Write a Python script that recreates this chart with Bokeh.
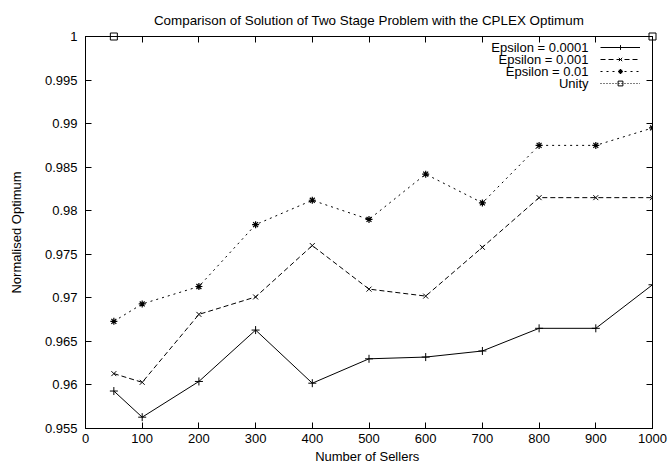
from bokeh.plotting import figure
from bokeh.models import (Range1d, FixedTicker, LinearAxis, CustomJSTickFormatter,
                          Legend, LegendItem, Label)
from bokeh.embed import file_html
from bokeh.resources import INLINE

# ---- data ----
sellers = [50, 100, 200, 300, 400, 500, 600, 700, 800, 900, 1000]
eps_0001 = [0.9593, 0.9563, 0.9604, 0.9663, 0.9602, 0.9630, 0.9632, 0.9639, 0.9665, 0.9665, 0.9715]
eps_001 = [0.9613, 0.9603, 0.9681, 0.9701, 0.9760, 0.9710, 0.9702, 0.9758, 0.9815, 0.9815, 0.9815]
eps_01 = [0.9673, 0.9693, 0.9713, 0.9784, 0.9812, 0.9790, 0.9842, 0.9809, 0.9875, 0.9875, 0.9895]
unity_x = [50, 1000]
unity_y = [1.0, 1.0]
x_ticks = [0, 100, 200, 300, 400, 500, 600, 700, 800, 900, 1000]
y_ticks = [0.955, 0.96, 0.965, 0.97, 0.975, 0.98, 0.985, 0.99, 0.995, 1.0]
legend_labels = ["Epsilon = 0.0001", "Epsilon = 0.001", "Epsilon = 0.01", "Unity"]
title_text = "Comparison of Solution of Two Stage Problem with the CPLEX Optimum"
x_label = "Number of  Sellers"
y_label = "Normalised Optimum"

FONT = "Liberation Sans"
FS = "13px"

p = figure(width=669, height=466, output_backend="svg", toolbar_location=None,
           x_range=Range1d(0, 1000), y_range=Range1d(0.955, 1.0),
           min_border_left=85, min_border_right=17, min_border_top=36, min_border_bottom=38)
p.title.text = title_text
p.title.text_font = FONT
p.title.text_font_size = "13.4px"
p.title.text_font_style = "normal"
p.title.align = "center"
p.title.text_color = "black"
p.title.standoff = 17

p.xgrid.visible = False
p.ygrid.visible = False
p.outline_line_color = "black"
p.background_fill_color = "white"
p.border_fill_color = "white"

def style_axis(ax):
    ax.axis_line_color = "black"
    ax.axis_line_width = 1
    ax.major_tick_in = 6
    ax.major_tick_out = 0
    ax.major_tick_line_color = "black"
    ax.minor_tick_line_color = None
    ax.major_label_text_font = FONT
    ax.major_label_text_font_size = FS
    ax.major_label_text_color = "black"
    ax.axis_label_text_font = FONT
    ax.axis_label_text_font_size = FS
    ax.axis_label_text_font_style = "normal"
    ax.axis_label_text_color = "black"

xa = p.xaxis[0]
ya = p.yaxis[0]
xa.ticker = FixedTicker(ticks=x_ticks)
ya.ticker = FixedTicker(ticks=y_ticks)
ya.formatter = CustomJSTickFormatter(code="return String(parseFloat(tick.toFixed(3)));")
style_axis(xa)
style_axis(ya)
xa.axis_label = x_label
ya.axis_label = y_label
xa.major_label_standoff = 5
xa.axis_label_standoff = 3
ya.major_label_standoff = 8
ya.axis_label_standoff = 18

blank = CustomJSTickFormatter(code="return '';")
top = LinearAxis(ticker=FixedTicker(ticks=x_ticks), formatter=blank)
right = LinearAxis(ticker=FixedTicker(ticks=y_ticks), formatter=blank)
style_axis(top)
style_axis(right)
for ax in (top, right):
    ax.major_label_standoff = 0
    ax.major_label_text_font_size = "0px"
p.add_layout(top, "above")
p.add_layout(right, "right")

# ---- series ----
r1l = p.line(sellers, eps_0001, line_color="black", line_width=1)
r1m = p.scatter(sellers, eps_0001, marker="cross", size=8, line_color="black", line_width=1)
r2l = p.line(sellers, eps_001, line_color="black", line_width=1, line_dash="5 3")
r2m = p.scatter(sellers, eps_001, marker="x", size=7, line_color="black", line_width=1)
r3l = p.line(sellers, eps_01, line_color="black", line_width=1, line_dash="2 4")
r3m = p.scatter(sellers, eps_01, marker="asterisk", size=7, line_color="black", line_width=1.2)
r4l = p.line(unity_x, unity_y, line_color="black", line_width=1, line_dash="1 2")
r4m = p.scatter(unity_x, unity_y, marker="square", size=7, line_color="black",
                fill_color=None, line_width=1, level="overlay")

# ---- legend: glyph samples on the right, text right-aligned to their left ----
renders = [[r1l, r1m], [r2l, r2m], [r3l, r3m], [r4l, r4m]]
items = [LegendItem(label=" ", renderers=r) for r in renders]
legend = Legend(items=items, location=(515, 339), glyph_width=40, glyph_height=12,
                label_width=0, label_height=12, label_standoff=0, spacing=0,
                padding=0, margin=0, border_line_color=None, background_fill_alpha=0,
                label_text_font_size="8px")
p.add_layout(legend, "center")

for i, lab in enumerate(legend_labels):
    p.add_layout(Label(x=503, y=381 - 12 * i, x_units="screen", y_units="screen",
                       text=lab, text_align="right", text_baseline="middle",
                       text_font=FONT, text_font_size=FS, text_color="black"))

open("out.html", "w").write(file_html(p, INLINE))
